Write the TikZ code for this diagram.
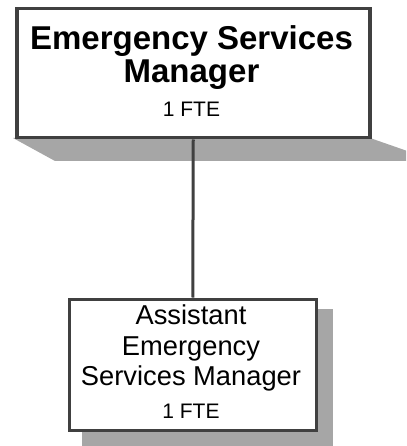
\documentclass[tikz,border=0pt]{standalone}
\usepackage{fontspec}
\setmainfont{Liberation Sans}
\begin{document}
\begin{tikzpicture}[x=1pt,y=-1pt,
  box/.style={draw=boxline,fill=white,rectangle,inner sep=0pt,anchor=north west},
  shade/.style={fill=shadowgray,draw=none},
  title/.style={anchor=base,inner sep=0pt,font=\fontsize{33}{33}\selectfont\bfseries},
  label/.style={anchor=base,inner sep=0pt,font=\fontsize{27.3}{27.3}\selectfont},
  fte/.style={anchor=base,inner sep=0pt,font=\fontsize{21}{21}\selectfont},
  link/.style={draw=boxline,line width=3pt}]
\definecolor{boxline}{HTML}{404040}
\definecolor{shadowgray}{HTML}{A6A6A6}
\useasboundingbox (0,0) rectangle (406,446);
\clip (0,0) rectangle (406,446);

% shadows
\fill[shade] (13,138) -- (370,138) -- (436,161) -- (55,161) -- cycle;
\fill[shade] (82,309) rectangle (333,460);

% boxes
\node[box,line width=3.5pt,minimum width=353pt,minimum height=129pt] (mgr) at (15,7) {};
\node[box,line width=3pt,minimum width=247.5pt,minimum height=131.5pt] (asst) at (67.5,297.5) {};

% reporting line
\draw[link] (mgr.south) -- (asst.north);

% titles
\node[title] (m1) at (191.5,50) {Emergency Services};
\node[title] (m2) at (191.5,83) {Manager};
\node[fte] (m3) at (191.5,117) {1 FTE};

\node[label] (a1) at (191,324.5) {Assistant};
\node[label] (a2) at (191,355) {Emergency};
\node[label] (a3) at (191,385) {Services Manager};
\node[fte] (a4) at (191,418.3) {1 FTE};
\end{tikzpicture}
\end{document}
